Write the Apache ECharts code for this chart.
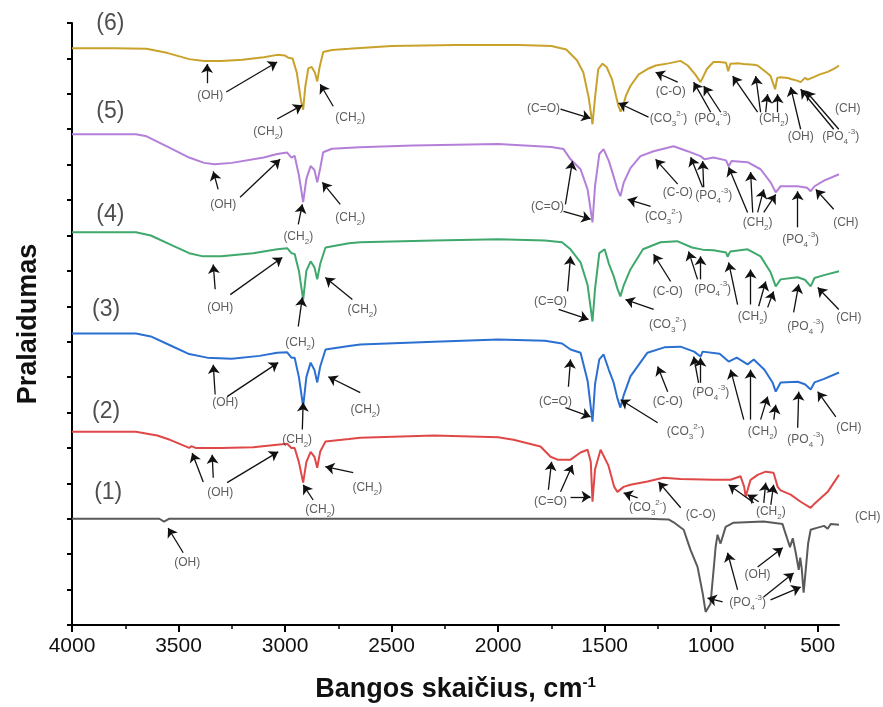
<!DOCTYPE html>
<html>
<head>
<meta charset="utf-8">
<script src="https://cdn.jsdelivr.net/npm/echarts@6/dist/echarts.min.js"></script>
<style>
    html, body { margin: 0; padding: 0; background: #fff; }
    #chart { width: 883px; height: 707px; }
</style>
</head>
<body>
<div id="chart"></div>
<script>
    // x tick values (wavenumber, cm-1)
    var xTicks = [4000, 3500, 3000, 2500, 2000, 1500, 1000, 500];
    var xMinor = [3750, 3250, 2750, 2250, 1750, 1250, 750];

    // spectra: [wavenumber, offset transmittance]
    var spec6 = [[4000,16.29],[3800,16.29],[3650,16.27],[3550,16.15],[3450,15.98],[3380,15.93],[3300,15.93],[3200,15.96],[3100,16.03],[3037,16.10],[3000,16.08],[2985,16.02],[2965,16.00],[2945,15.6],[2925,14.8],[2915,14.55],[2905,15.2],[2891,15.72],[2875,15.76],[2860,15.6],[2849,15.35],[2838,15.75],[2821,16.18],[2780,16.24],[2700,16.27],[2500,16.35],[2200,16.38],[1900,16.38],[1750,16.35],[1680,16.25],[1630,15.95],[1600,15.6],[1575,14.9],[1557,14.14],[1545,14.9],[1530,15.7],[1510,15.85],[1490,15.75],[1465,15.4],[1445,14.9],[1435,14.65],[1425,14.5],[1416,14.6],[1400,14.95],[1379,15.22],[1340,15.55],[1299,15.70],[1260,15.8],[1200,15.86],[1144,15.93],[1110,15.8],[1075,15.55],[1050,15.33],[1020,15.7],[989,15.9],[960,15.9],[930,15.88],[920,15.64],[910,15.85],[870,15.86],[848,15.84],[800,15.82],[782,15.8],[740,15.6],[721,15.5],[700,15.13],[690,15.45],[674,15.47],[640,15.45],[627,15.42],[600,15.38],[580,15.33],[560,15.45],[547,15.4],[519,15.47],[490,15.55],[453,15.62],[420,15.72],[400,15.8]];
    var spec5 = [[4000,13.86],[3700,13.86],[3650,13.80],[3550,13.50],[3450,13.2],[3380,13.05],[3330,13.01],[3250,13.05],[3100,13.2],[3037,13.30],[2990,13.34],[2970,13.2],[2955,13.25],[2935,12.7],[2915,11.94],[2900,12.6],[2880,12.96],[2862,12.85],[2849,12.5],[2835,12.9],[2821,13.35],[2780,13.45],[2650,13.49],[2400,13.54],[2000,13.58],[1750,13.50],[1693,13.44],[1660,13.15],[1613,12.87],[1580,12.3],[1557,11.37],[1545,12.4],[1525,13.3],[1505,13.44],[1480,13.1],[1458,12.67],[1440,12.3],[1426,12.11],[1410,12.5],[1379,12.9],[1332,13.24],[1270,13.38],[1176,13.52],[1111,13.38],[1050,13.24],[1030,13.15],[989,13.2],[930,13.12],[918,12.95],[905,13.1],[829,13.07],[768,12.87],[721,12.50],[697,12.22],[674,12.39],[594,12.39],[550,12.35],[533,12.25],[515,12.39],[470,12.55],[400,12.73]];
    var spec4 = [[4000,11.09],[3700,11.09],[3630,11.0],[3540,10.75],[3450,10.5],[3385,10.41],[3300,10.41],[3150,10.5],[3037,10.61],[2990,10.64],[2970,10.5],[2955,10.48],[2935,10.0],[2915,9.19],[2900,10.0],[2880,10.27],[2862,10.1],[2849,9.76],[2835,10.2],[2810,10.66],[2700,10.78],[2647,10.81],[2300,10.86],[2000,10.89],[1780,10.86],[1700,10.81],[1660,10.61],[1613,10.24],[1580,9.6],[1557,8.57],[1545,9.5],[1525,10.5],[1500,10.61],[1480,10.2],[1458,9.86],[1440,9.5],[1426,9.28],[1410,9.6],[1379,10.04],[1320,10.61],[1238,10.81],[1160,10.84],[1090,10.66],[1040,10.6],[989,10.58],[930,10.52],[923,10.40],[910,10.55],[829,10.61],[768,10.41],[721,9.96],[697,9.56],[674,9.76],[594,9.82],[560,9.75],[533,9.56],[515,9.8],[470,9.88],[400,9.99]];
    var spec3 = [[4000,8.23],[3700,8.23],[3630,8.15],[3540,7.9],[3450,7.65],[3366,7.55],[3250,7.52],[3120,7.6],[3037,7.69],[2990,7.7],[2970,7.55],[2955,7.55],[2935,7.0],[2915,6.17],[2900,7.0],[2880,7.41],[2862,7.2],[2849,6.85],[2835,7.3],[2810,7.78],[2700,7.88],[2647,7.92],[2300,8.0],[2000,8.06],[1780,8.03],[1700,7.95],[1660,7.78],[1613,7.69],[1580,6.9],[1557,5.74],[1545,6.8],[1525,7.5],[1505,7.64],[1480,7.2],[1458,6.85],[1440,6.4],[1426,6.14],[1410,6.5],[1379,7.02],[1299,7.69],[1220,7.84],[1144,7.86],[1080,7.72],[1050,7.58],[1040,7.72],[960,7.66],[918,7.44],[880,7.55],[829,7.36],[800,7.5],[750,7.21],[712,6.85],[697,6.59],[674,6.85],[594,6.87],[560,6.8],[533,6.65],[515,6.85],[470,6.95],[400,7.13]];
    var spec2 = [[4000,5.46],[3700,5.46],[3600,5.35],[3540,5.23],[3450,5.0],[3440,5.05],[3420,5.0],[3300,5.0],[3150,5.02],[3037,5.09],[2990,5.12],[2970,5.0],[2955,5.0],[2935,4.6],[2915,4.02],[2900,4.6],[2880,4.89],[2862,4.75],[2849,4.44],[2835,4.9],[2810,5.18],[2700,5.25],[2647,5.29],[2300,5.35],[2000,5.3],[1928,5.23],[1801,5.04],[1754,4.75],[1721,4.67],[1660,4.67],[1613,4.87],[1580,4.95],[1565,4.6],[1557,3.48],[1545,4.4],[1519,4.95],[1482,4.5],[1455,3.9],[1440,3.76],[1411,3.9],[1379,3.96],[1299,4.05],[1224,4.16],[1144,4.12],[989,4.10],[909,4.10],[862,4.2],[845,3.9],[838,3.62],[825,3.9],[815,4.1],[782,4.24],[744,4.33],[707,4.3],[688,3.9],[674,3.8],[627,3.68],[580,3.48],[533,3.31],[519,3.4],[453,3.76],[400,4.24]];
    var spec1 = [[4000,3.0],[3700,3.0],[3590,3.0],[3568,2.92],[3545,3.0],[3000,3.0],[2500,3.0],[2000,3.0],[1500,3.0],[1300,3.0],[1200,2.98],[1176,2.9],[1129,2.69],[1097,2.12],[1064,1.64],[1040,0.9],[1026,0.37],[1003,0.6],[985,1.8],[979,2.21],[970,2.55],[962,2.4],[956,2.3],[932,2.77],[895,2.89],[754,2.92],[665,2.85],[652,2.6],[641,2.40],[630,2.2],[617,2.45],[603,2.04],[589,1.56],[582,1.9],[575,1.6],[566,0.91],[560,1.3],[545,2.3],[533,2.69],[500,2.75],[470,2.8],[453,2.72],[439,2.85],[400,2.83]];

    var specColors = ['#5a5a5a', '#e04848', '#2c6fd2', '#3fa86c', '#b47fd8', '#c9a22b'];

    // curve tags
    var tags = [[3820,16.98,'(6)'],[3820,14.49,'(5)'],[3820,11.60,'(4)'],[3840,8.91,'(3)'],[3840,6.03,'(2)'],[3830,3.73,'(1)']];

    // band labels: [wavenumber, y, text]
    var bandLabels = [
        [3351,14.94,'(OH)'],[3079,13.92,'(CH{sb|2})'],[2694,14.34,'(CH{sb|2})'],[1787,14.57,'(C=O)'],
        [1200,14.29,'(CO{sb|3}{sp|2-})'],[1190,15.05,'(C-O)'],[993,14.29,'(PO{sb|4}{sp|-3})'],[706,14.29,'(CH{sb|2})'],
        [580,13.78,'(OH)'],[392,13.80,'(PO{sb|4}{sp|-3})'],[359,14.57,'(CH)'],

        [3290,11.88,'(OH)'],[2938,10.97,'(CH{sb|2})'],[2694,11.51,'(CH{sb|2})'],[1768,11.80,'(C=O)'],
        [1223,11.54,'(CO{sb|3}{sp|2-})'],[1157,12.22,'(C-O)'],[988,12.11,'(PO{sb|4}{sp|-3})'],[782,11.37,'(CH{sb|2})'],
        [580,10.89,'(PO{sb|4}{sp|-3})'],[368,11.37,'(CH)'],

        [3304,8.97,'(OH)'],[2929,7.98,'(CH{sb|2})'],[2637,8.91,'(CH{sb|2})'],[1754,9.14,'(C=O)'],
        [1204,8.49,'(CO{sb|3}{sp|2-})'],[1204,9.42,'(C-O)'],[993,9.48,'(PO{sb|4}{sp|-3})'],[805,8.71,'(CH{sb|2})'],
        [556,8.43,'(PO{sb|4}{sp|-3})'],[354,8.68,'(CH)'],

        [3281,6.28,'(OH)'],[2943,5.23,'(CH{sb|2})'],[2623,6.08,'(CH{sb|2})'],[1731,6.31,'(C=O)'],
        [1120,5.46,'(CO{sb|3}{sp|2-})'],[1204,6.31,'(C-O)'],[1002,6.56,'(PO{sb|4}{sp|-3})'],[758,5.46,'(CH{sb|2})'],
        [556,5.23,'(PO{sb|4}{sp|-3})'],[354,5.57,'(CH)'],

        [3304,3.73,'(OH)'],[2835,3.25,'(CH{sb|2})'],[2614,3.87,'(CH{sb|2})'],[1754,3.48,'(C=O)'],
        [1298,3.31,'(CO{sb|3}{sp|2-})'],[1049,3.11,'(C-O)'],[720,3.20,'(CH{sb|2})'],[265,3.05,'(CH)'],

        [3459,1.75,'(OH)'],[782,1.41,'(OH)'],[829,0.62,'(PO{sb|4}{sp|-3})']
    ];

    // arrows: [fromX, fromY, toX, toY]
    var arrows = [
        [3366,15.30,3366,15.84],[3276,15.05,3037,15.90],[3037,14.29,2919,14.68],[2774,14.65,2835,15.27],
        [1707,14.57,1566,14.31],[1294,14.34,1435,14.74],[1157,15.33,1261,15.61],[1002,14.48,1082,15.33],
        [955,14.48,1035,15.22],[782,14.48,899,15.50],[768,14.48,791,15.50],[744,14.48,735,14.99],
        [688,14.48,688,14.99],[580,14.00,627,15.19],[425,14.00,580,15.13],[401,14.00,556,15.08],[392,14.79,519,15.13],

        [3314,12.30,3337,12.81],[3211,12.08,3023,13.15],[2938,11.31,2919,11.88],[2741,11.88,2825,12.50],
        [1684,11.88,1651,13.10],[1693,11.68,1566,11.46],[1284,11.82,1392,12.02],[1157,12.45,1261,13.15],
        [1040,12.36,1096,13.21],[1035,12.36,1040,13.10],[829,11.65,918,12.93],[805,11.65,815,12.79],
        [782,11.65,753,12.30],[753,11.65,697,12.16],[594,11.23,594,12.25],[425,11.74,509,12.30],

        [3328,9.48,3337,10.18],[3257,9.33,3013,10.38],[2938,8.43,2919,9.25],[2684,9.19,2811,9.81],
        [1674,9.42,1660,10.41],[1716,8.91,1576,8.63],[1270,8.91,1402,9.19],[1190,9.70,1270,10.47],
        [1064,9.76,1106,10.55],[1050,9.76,1050,10.41],[876,9.05,918,10.24],[815,9.05,815,10.04],
        [777,9.00,744,9.70],[735,8.97,707,9.42],[613,8.83,589,9.62],[401,8.91,500,9.53],

        [3328,6.51,3337,7.35],[3272,6.45,3032,7.41],[2919,5.52,2915,6.28],[2647,6.56,2797,7.01],
        [1670,6.73,1660,7.50],[1684,6.14,1566,5.88],[1251,5.71,1425,6.36],[1204,6.59,1251,7.30],
        [1059,6.84,1082,7.58],[1050,6.84,1050,7.55],[847,5.80,909,7.21],[815,5.80,815,7.21],
        [768,5.80,735,6.45],[706,5.80,697,6.22],[594,5.57,589,6.59],[415,5.88,500,6.59],

        [3384,4.04,3436,4.86],[3337,4.16,3342,4.81],[3272,4.02,3032,4.89],[2868,3.53,2915,3.96],
        [2680,4.30,2811,4.47],[1764,3.82,1749,4.61],[1707,3.76,1651,4.52],[1660,3.62,1566,3.62],
        [1345,3.59,1411,3.73],[1143,3.31,1247,4.04],[800,3.45,918,3.96],[777,3.48,829,3.68],
        [753,3.45,744,4.02],[720,3.39,707,3.96],[345,3.11,533,3.34],

        [3478,2.04,3549,2.74],[876,0.99,923,2.04],[782,1.64,664,2.18],[946,0.65,1017,0.76],
        [754,0.79,613,1.47],[721,0.71,580,1.07]
    ];

    var FONT = "'Liberation Sans', Arial, sans-serif";
    var chart = echarts.init(document.getElementById('chart'));

    var specs = [spec1, spec2, spec3, spec4, spec5, spec6];
    var series = specs.map(function (d, i) {
        return {
            name: '(' + (i + 1) + ')',
            type: 'line',
            data: d,
            showSymbol: false,
            symbol: 'none',
            lineStyle: { color: specColors[i], width: 2 },
            z: 2
        };
    });

    series.push({
        type: 'scatter',
        symbolSize: 0,
        clip: false,
        silent: true,
        z: 5,
        data: bandLabels.map(function (a) { return { value: [a[0], a[1]], t: a[2] }; }),
        label: {
            show: true,
            position: 'inside',
            formatter: function (p) { return p.data.t; },
            fontFamily: FONT,
            fontSize: 12,
            color: '#333',
            lineHeight: 18,
            rich: {
                sb: { fontSize: 8, lineHeight: 10, verticalAlign: 'bottom', color: '#333', fontFamily: FONT },
                sp: { fontSize: 8, lineHeight: 10, verticalAlign: 'top', color: '#333', fontFamily: FONT }
            }
        },
        markLine: {
            silent: true,
            animation: false,
            symbol: ['none', 'arrow'],
            symbolSize: 9,
            label: { show: false },
            lineStyle: { color: '#111', width: 1.3, type: 'solid' },
            emphasis: { disabled: true },
            data: arrows.map(function (a) {
                return [{ coord: [a[0], a[1]] }, { coord: [a[2], a[3]] }];
            })
        }
    });

    series.push({
        type: 'scatter',
        symbolSize: 0,
        clip: false,
        silent: true,
        z: 5,
        data: tags.map(function (a) { return { value: [a[0], a[1]], t: a[2] }; }),
        label: {
            show: true,
            position: 'inside',
            formatter: function (p) { return p.data.t; },
            fontFamily: FONT,
            fontSize: 23,
            color: '#222'
        }
    });

    chart.setOption({
        animation: false,
        backgroundColor: '#fff',
        grid: { left: 72, right: 44, top: 23, bottom: 82, outerBoundsMode: 'none' },
        xAxis: [{
            type: 'value',
            min: 400,
            max: 4000,
            inverse: true,
            name: 'Bangos skaičius, cm{sp|-1}',
            nameLocation: 'middle',
            nameGap: 50,
            nameTextStyle: {
                fontFamily: FONT, fontSize: 27, fontWeight: 'bold', color: '#111', lineHeight: 30,
                rich: { sp: { fontFamily: FONT, fontSize: 15, fontWeight: 'bold', color: '#111', verticalAlign: 'top', lineHeight: 14 } }
            },
            axisLine: { lineStyle: { color: '#000', width: 2 } },
            axisTick: { customValues: xTicks, length: 7, lineStyle: { color: '#000', width: 2 } },
            axisLabel: {
                customValues: xTicks,
                formatter: function (v) { return String(v); },
                fontFamily: FONT, fontSize: 21, color: '#111', margin: 11
            },
            splitLine: { show: false }
        }, {
            type: 'value',
            min: 400,
            max: 4000,
            inverse: true,
            position: 'bottom',
            axisLine: { show: false },
            axisTick: { customValues: xMinor, length: 4, lineStyle: { color: '#000', width: 1.5 } },
            axisLabel: { show: false },
            splitLine: { show: false }
        }],
        yAxis: {
            type: 'value',
            min: 0,
            max: 17,
            interval: 1,
            name: 'Pralaidumas',
            nameLocation: 'middle',
            nameGap: 30,
            nameRotate: 90,
            nameTextStyle: { fontFamily: FONT, fontSize: 27, fontWeight: 'bold', color: '#111' },
            axisLine: { lineStyle: { color: '#000', width: 2 } },
            axisTick: { length: 5, lineStyle: { color: '#000', width: 2 } },
            axisLabel: { show: false },
            splitLine: { show: false }
        },
        series: series
    });
</script>
</body>
</html>
